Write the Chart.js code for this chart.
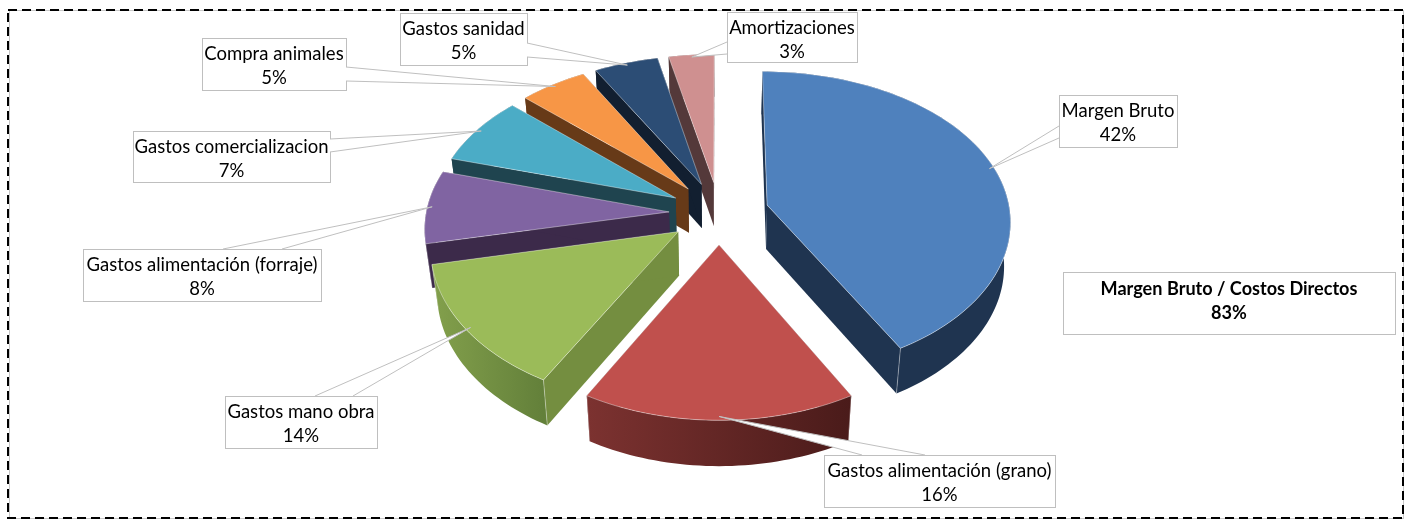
<!DOCTYPE html>
<html>
<head>
<meta charset="utf-8">
<title>Margen Bruto / Costos Directos</title>
<script src="https://cdn.jsdelivr.net/npm/chart.js@4"></script>
<style>
  html, body { margin: 0; background: #fff; }
  #wrap { position: relative; width: 1411px; height: 520px; }
</style>
</head>
<body>
<div id="wrap"><canvas id="pieChart"></canvas></div>
<script>
const categories = [
  'Margen Bruto',
  'Gastos alimentación (grano)',
  'Gastos mano obra',
  'Gastos alimentación (forraje)',
  'Gastos comercializacion',
  'Compra animales',
  'Gastos sanidad',
  'Amortizaciones',
];
// the labels show them rounded
const shares = [41.8, 16.4, 13.5, 7.7, 7.35, 5.05, 4.8, 3.4];
const sideNote = ['Margen Bruto / Costos Directos', '83%'];

const topColors = ['#4F81BD', '#C0504D', '#9BBB59', '#8064A2', '#4BACC6', '#F79646', '#2C4D75', '#CF9090'];
const rimColors = [
  ['#1F3450', '#1F3450'],
  ['#7C3230', '#4A1B1A'],
  ['#83A04C', '#63803A'],
  ['#3C2A4A', '#3C2A4A'],
  ['#1F444F', '#1F444F'],
  ['#673A18', '#673A18'],
  ['#121F30', '#121F30'],
  ['#54393A', '#54393A'],
];
const faceColors = ['#1F3450', '#511E1D', '#748E40', '#3C2A4A', '#1F444F', '#673A18', '#121F30', '#54393A'];

// label boxes: x, y, w, h and the two points where the callout wedge leaves the box
const calloutBoxes = [
  { x: 1059, y: 95, w: 118, h: 52, base: [[1059, 126], [1059, 138]] },
  { x: 824, y: 455, w: 231, h: 52, base: [[862, 455], [925, 455]] },
  { x: 225, y: 396, w: 152, h: 52, base: [[315, 396], [353, 396]] },
  { x: 83, y: 249, w: 238, h: 52, base: [[223, 249], [282, 249]] },
  { x: 133, y: 131, w: 197, h: 51, base: [[330, 139], [330, 152]] },
  { x: 202, y: 38, w: 144, h: 52, base: [[346, 67], [346, 81]] },
  { x: 400, y: 13, w: 127, h: 52, base: [[527, 43], [527, 57]] },
  { x: 727, y: 12, w: 130, h: 50, base: [[727, 42], [727, 54]] },
];
const noteBox = { x: 1063, y: 272, w: 332, h: 62 };

const TILT = 0.625;
const PERSPECTIVE_X = 0.0004;
const PERSPECTIVE_Y = 0.00045;
const DEPTH = 44;
const DEPTH_SCALE_X = 0.978;
const DEPTH_SCALE_Y = 1.009;
const FONT = 'Lato, "Open Sans", sans-serif';

function topPoint(el, angle, radius, offset) {
  const mid = (el.startAngle + el.endAngle) / 2;
  const wx = Math.cos(mid) * offset + Math.cos(angle) * radius;
  const wy = Math.sin(mid) * offset + Math.sin(angle) * radius;
  return [
    el.x + wx * (1 + PERSPECTIVE_X * wy),
    el.y + wy * TILT * (1 + PERSPECTIVE_Y * wy),
  ];
}

function lowerPoint(el, pt) {
  return [
    el.x + (pt[0] - el.x) * DEPTH_SCALE_X,
    el.y + (pt[1] - el.y) * DEPTH_SCALE_Y + DEPTH,
  ];
}

function rimPoints(el, offset) {
  const steps = Math.max(6, Math.ceil((el.endAngle - el.startAngle) * 40));
  const pts = [];
  for (let i = 0; i <= steps; i += 1) {
    const a = el.startAngle + (el.endAngle - el.startAngle) * (i / steps);
    pts.push(topPoint(el, a, el.outerRadius, offset));
  }
  return pts;
}

function fillPath(ctx, pts, fill) {
  ctx.beginPath();
  pts.forEach((pt, i) => (i ? ctx.lineTo(pt[0], pt[1]) : ctx.moveTo(pt[0], pt[1])));
  ctx.closePath();
  ctx.fillStyle = fill;
  ctx.fill();
}

function drawSlice(ctx, el, index) {
  const offset = el.options.offset || 0;
  const rim = rimPoints(el, offset);
  const tip = topPoint(el, el.startAngle, 0, offset);
  const first = rim[0];
  const last = rim[rim.length - 1];
  const low = (pt) => lowerPoint(el, pt);

  // radial walls first, the rim and the top cover what should not show
  fillPath(ctx, [tip, first, low(first), low(tip)], faceColors[index]);
  fillPath(ctx, [tip, last, low(last), low(tip)], faceColors[index]);

  const grad = ctx.createLinearGradient(Math.min(first[0], last[0]), 0, Math.max(first[0], last[0]), 0);
  grad.addColorStop(0, rimColors[index][0]);
  grad.addColorStop(1, rimColors[index][1]);
  fillPath(ctx, rim.concat(rim.slice().reverse().map(low)), grad);

  // light edge where the walls meet
  ctx.strokeStyle = 'rgba(255,255,255,0.45)';
  ctx.lineWidth = 0.8;
  [first, last].forEach((pt) => {
    if (pt[1] > el.y) {
      const lp = low(pt);
      ctx.beginPath();
      ctx.moveTo(pt[0], pt[1]);
      ctx.lineTo(lp[0], lp[1]);
      ctx.stroke();
    }
  });

  const face = [tip].concat(rim);
  fillPath(ctx, face, topColors[index]);
  ctx.strokeStyle = 'rgba(255,255,255,0.5)';
  ctx.stroke();
}

function drawCallout(ctx, box, tipPt, lines) {
  ctx.fillStyle = '#fff';
  ctx.strokeStyle = '#BFBFBF';
  ctx.lineWidth = 1;
  ctx.fillRect(box.x, box.y, box.w, box.h);
  ctx.strokeRect(box.x + 0.5, box.y + 0.5, box.w, box.h);

  const [a, b] = box.base;
  ctx.beginPath();
  ctx.moveTo(a[0], a[1]);
  ctx.lineTo(tipPt[0], tipPt[1]);
  ctx.lineTo(b[0], b[1]);
  ctx.closePath();
  ctx.fill();
  ctx.beginPath();
  ctx.moveTo(a[0], a[1]);
  ctx.lineTo(tipPt[0], tipPt[1]);
  ctx.lineTo(b[0], b[1]);
  ctx.stroke();

  ctx.fillStyle = '#000';
  ctx.font = `18.5px ${FONT}`;
  ctx.textAlign = 'center';
  ctx.textBaseline = 'middle';
  lines.forEach((line, i) => {
    ctx.fillText(line, box.x + box.w / 2, box.y + 16 + i * 24);
  });
}

const pie3dPlugin = {
  id: 'pie3d',
  beforeDatasetDraw(chart, args) {
    const { ctx } = chart;
    const arcs = args.meta.data;
    const order = arcs.map((el, i) => i).sort((p, q) => {
      const midP = (arcs[p].startAngle + arcs[p].endAngle) / 2;
      const midQ = (arcs[q].startAngle + arcs[q].endAngle) / 2;
      return Math.sin(midP) - Math.sin(midQ);
    });
    ctx.save();
    order.forEach((i) => drawSlice(ctx, arcs[i], i));
    arcs.forEach((el, i) => {
      const mid = (el.startAngle + el.endAngle) / 2;
      const tipPt = topPoint(el, mid, el.outerRadius * 0.98, el.options.offset || 0);
      drawCallout(ctx, calloutBoxes[i], tipPt, [categories[i], `${Math.round(shares[i])}%`]);
    });
    ctx.restore();
    return false;
  },
  afterDraw(chart) {
    const { ctx } = chart;
    ctx.save();
    ctx.fillStyle = '#fff';
    ctx.strokeStyle = '#BFBFBF';
    ctx.lineWidth = 1;
    ctx.fillRect(noteBox.x, noteBox.y, noteBox.w, noteBox.h);
    ctx.strokeRect(noteBox.x + 0.5, noteBox.y + 0.5, noteBox.w, noteBox.h);
    ctx.fillStyle = '#000';
    ctx.font = `bold 18.1px ${FONT}`;
    ctx.textAlign = 'center';
    ctx.textBaseline = 'middle';
    sideNote.forEach((line, i) => {
      ctx.fillText(line, noteBox.x + noteBox.w / 2, noteBox.y + 17 + i * 24);
    });

    // frame: thin grey line with the black dashes over it
    ctx.strokeStyle = '#C8C8C8';
    ctx.strokeRect(9.5, 10.5, 1394, 508);
    ctx.strokeStyle = '#000';
    ctx.lineWidth = 2;
    ctx.setLineDash([9, 5]);
    ctx.strokeRect(8, 10, 1395, 508);
    ctx.restore();
  },
};

new Chart(document.getElementById('pieChart'), {
  type: 'pie',
  data: {
    labels: categories,
    datasets: [{
      data: shares,
      backgroundColor: topColors,
      offset: 50,
      radius: 243,
      borderWidth: 0,
    }],
  },
  options: {
    responsive: true,
    maintainAspectRatio: false,
    animation: false,
    events: [],
    layout: { padding: { left: 27, bottom: 94 } },
    plugins: {
      legend: { display: false },
      tooltip: { enabled: false },
    },
  },
  plugins: [pie3dPlugin],
});
</script>
</body>
</html>
